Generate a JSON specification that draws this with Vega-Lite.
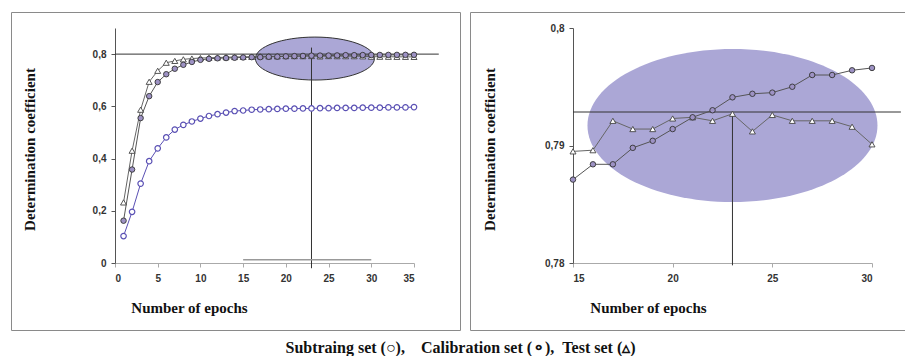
{
  "$schema": "https://vega.github.io/schema/vega-lite/v6.json",
  "padding": {"left": 10, "top": 11, "right": 0, "bottom": 0},
  "background": "white",
  "spacing": 8,
  "datasets": {
    "series": [
      {"set": "sub", "epoch": 1, "value": 0.103}, {"set": "sub", "epoch": 2, "value": 0.196}, {"set": "sub", "epoch": 3, "value": 0.304}, {"set": "sub", "epoch": 4, "value": 0.390}, {"set": "sub", "epoch": 5, "value": 0.439},
      {"set": "sub", "epoch": 6, "value": 0.481}, {"set": "sub", "epoch": 7, "value": 0.511}, {"set": "sub", "epoch": 8, "value": 0.529}, {"set": "sub", "epoch": 9, "value": 0.542}, {"set": "sub", "epoch": 10, "value": 0.553},
      {"set": "sub", "epoch": 11, "value": 0.563}, {"set": "sub", "epoch": 12, "value": 0.570}, {"set": "sub", "epoch": 13, "value": 0.576}, {"set": "sub", "epoch": 14, "value": 0.582}, {"set": "sub", "epoch": 15, "value": 0.584},
      {"set": "sub", "epoch": 16, "value": 0.587}, {"set": "sub", "epoch": 17, "value": 0.588}, {"set": "sub", "epoch": 18, "value": 0.589}, {"set": "sub", "epoch": 19, "value": 0.590}, {"set": "sub", "epoch": 20, "value": 0.591},
      {"set": "sub", "epoch": 21, "value": 0.591}, {"set": "sub", "epoch": 22, "value": 0.592}, {"set": "sub", "epoch": 23, "value": 0.592}, {"set": "sub", "epoch": 24, "value": 0.593}, {"set": "sub", "epoch": 25, "value": 0.593},
      {"set": "sub", "epoch": 26, "value": 0.594}, {"set": "sub", "epoch": 27, "value": 0.594}, {"set": "sub", "epoch": 28, "value": 0.594}, {"set": "sub", "epoch": 29, "value": 0.595}, {"set": "sub", "epoch": 30, "value": 0.595},
      {"set": "sub", "epoch": 31, "value": 0.595}, {"set": "sub", "epoch": 32, "value": 0.596}, {"set": "sub", "epoch": 33, "value": 0.596}, {"set": "sub", "epoch": 34, "value": 0.596}, {"set": "sub", "epoch": 35, "value": 0.597},
      {"set": "cal", "epoch": 1, "value": 0.162}, {"set": "cal", "epoch": 2, "value": 0.358}, {"set": "cal", "epoch": 3, "value": 0.555}, {"set": "cal", "epoch": 4, "value": 0.639}, {"set": "cal", "epoch": 5, "value": 0.693},
      {"set": "cal", "epoch": 6, "value": 0.723}, {"set": "cal", "epoch": 7, "value": 0.744}, {"set": "cal", "epoch": 8, "value": 0.759}, {"set": "cal", "epoch": 9, "value": 0.770}, {"set": "cal", "epoch": 10, "value": 0.778},
      {"set": "cal", "epoch": 11, "value": 0.782}, {"set": "cal", "epoch": 12, "value": 0.784}, {"set": "cal", "epoch": 13, "value": 0.785}, {"set": "cal", "epoch": 14, "value": 0.786}, {"set": "cal", "epoch": 15, "value": 0.7871},
      {"set": "cal", "epoch": 16, "value": 0.7884}, {"set": "cal", "epoch": 17, "value": 0.7884}, {"set": "cal", "epoch": 18, "value": 0.7898}, {"set": "cal", "epoch": 19, "value": 0.7904}, {"set": "cal", "epoch": 20, "value": 0.7914},
      {"set": "cal", "epoch": 21, "value": 0.7924}, {"set": "cal", "epoch": 22, "value": 0.7930}, {"set": "cal", "epoch": 23, "value": 0.7941}, {"set": "cal", "epoch": 24, "value": 0.7944}, {"set": "cal", "epoch": 25, "value": 0.7945},
      {"set": "cal", "epoch": 26, "value": 0.7950}, {"set": "cal", "epoch": 27, "value": 0.7960}, {"set": "cal", "epoch": 28, "value": 0.7960}, {"set": "cal", "epoch": 29, "value": 0.7964}, {"set": "cal", "epoch": 30, "value": 0.7966},
      {"set": "cal", "epoch": 31, "value": 0.7968}, {"set": "cal", "epoch": 32, "value": 0.7970}, {"set": "cal", "epoch": 33, "value": 0.7971}, {"set": "cal", "epoch": 34, "value": 0.7972}, {"set": "cal", "epoch": 35, "value": 0.7973},
      {"set": "test", "epoch": 1, "value": 0.232}, {"set": "test", "epoch": 2, "value": 0.430}, {"set": "test", "epoch": 3, "value": 0.587}, {"set": "test", "epoch": 4, "value": 0.694}, {"set": "test", "epoch": 5, "value": 0.736},
      {"set": "test", "epoch": 6, "value": 0.767}, {"set": "test", "epoch": 7, "value": 0.774}, {"set": "test", "epoch": 8, "value": 0.780}, {"set": "test", "epoch": 9, "value": 0.783}, {"set": "test", "epoch": 10, "value": 0.785},
      {"set": "test", "epoch": 11, "value": 0.786}, {"set": "test", "epoch": 12, "value": 0.787}, {"set": "test", "epoch": 13, "value": 0.788}, {"set": "test", "epoch": 14, "value": 0.789}, {"set": "test", "epoch": 15, "value": 0.7895},
      {"set": "test", "epoch": 16, "value": 0.7896}, {"set": "test", "epoch": 17, "value": 0.7921}, {"set": "test", "epoch": 18, "value": 0.7914}, {"set": "test", "epoch": 19, "value": 0.7914}, {"set": "test", "epoch": 20, "value": 0.7923},
      {"set": "test", "epoch": 21, "value": 0.7924}, {"set": "test", "epoch": 22, "value": 0.7921}, {"set": "test", "epoch": 23, "value": 0.7927}, {"set": "test", "epoch": 24, "value": 0.7912}, {"set": "test", "epoch": 25, "value": 0.7926},
      {"set": "test", "epoch": 26, "value": 0.7921}, {"set": "test", "epoch": 27, "value": 0.7921}, {"set": "test", "epoch": 28, "value": 0.7921}, {"set": "test", "epoch": 29, "value": 0.7916}, {"set": "test", "epoch": 30, "value": 0.7901},
      {"set": "test", "epoch": 31, "value": 0.7900}, {"set": "test", "epoch": 32, "value": 0.7898}, {"set": "test", "epoch": 33, "value": 0.7896}, {"set": "test", "epoch": 34, "value": 0.7895}, {"set": "test", "epoch": 35, "value": 0.7893}
    ]
  },
  "title": {
    "text": "Subtraing set (○),\u00a0\u00a0\u00a0\u00a0Calibration set (⚬),\u00a0\u00a0Test set (▵)",
    "orient": "bottom",
    "anchor": "middle",
    "font": "Liberation Serif",
    "fontSize": 16,
    "fontWeight": "bold",
    "color": "#111",
    "offset": 9
  },
  "hconcat": [
    {
      "width": 449,
      "height": 318,
      "layer": [
        {
          "data": {"values": [{"epoch": 23.4, "value": 0.783}]},
          "mark": {"type": "point", "shape": "M-1,0C-1,-0.1994,-0.5523,-0.361,0,-0.361C0.5523,-0.361,1,-0.1994,1,0C1,0.1994,0.5523,0.361,0,0.361C-0.5523,0.361,-1,0.1994,-1,0Z", "size": 14161, "filled": true, "fill": "#aba7d6", "stroke": "#333", "strokeWidth": 1, "opacity": 1},
          "encoding": {
            "x": {"field": "epoch", "type": "quantitative", "scale": {"domain": [0, 35], "range": [104, 403], "nice": false, "zero": false},
                  "axis": {"title": "Number of epochs", "values": [0, 5, 10, 15, 20, 25, 30, 35], "offset": -67, "titleX": 178, "titleY": 44, "titleBaseline": "middle", "titleAlign": "center"}},
            "y": {"field": "value", "type": "quantitative", "scale": {"domain": [0, 0.9], "range": [251, 16], "nice": false, "zero": false},
                  "axis": {"title": "Determination coefficient", "values": [0, 0.2, 0.4, 0.6, 0.8], "format": "~g", "labelExpr": "replace(datum.label, '.', ',')", "offset": -104, "titleX": -86, "titleY": 137, "titleBaseline": "middle", "titleAlign": "center", "titleAngle": -90}}
          }
        },
        {
          "data": {"values": [{"epoch": 0, "epoch2": 37.9, "value": 0.8}]},
          "mark": {"type": "rule", "color": "#333", "strokeWidth": 1},
          "encoding": {"x": {"field": "epoch", "type": "quantitative"}, "x2": {"field": "epoch2"}, "y": {"field": "value", "type": "quantitative"}}
        },
        {
          "data": {"values": [{"epoch": 23, "value": -0.02, "value2": 0.825}]},
          "mark": {"type": "rule", "color": "#333", "strokeWidth": 1},
          "encoding": {"x": {"field": "epoch", "type": "quantitative"}, "y": {"field": "value", "type": "quantitative"}, "y2": {"field": "value2"}}
        },
        {
          "data": {"values": [{"epoch": 15, "epoch2": 30, "value": 0.012}]},
          "mark": {"type": "rule", "color": "#999", "strokeWidth": 1.5},
          "encoding": {"x": {"field": "epoch", "type": "quantitative"}, "x2": {"field": "epoch2"}, "y": {"field": "value", "type": "quantitative"}}
        },
        {
          "data": {"name": "series"},
          "transform": [{"filter": "datum.set === 'sub'"}],
          "mark": {"type": "line", "color": "#5a50b4", "strokeWidth": 1, "point": {"filled": true, "fill": "white", "stroke": "#5a50b4", "strokeWidth": 1.2, "size": 30}},
          "encoding": {"x": {"field": "epoch", "type": "quantitative"}, "y": {"field": "value", "type": "quantitative"}}
        },
        {
          "data": {"name": "series"},
          "transform": [{"filter": "datum.set === 'test'"}],
          "mark": {"type": "line", "color": "#666", "strokeWidth": 1, "point": {"shape": "triangle-up", "filled": true, "fill": "white", "stroke": "#444", "strokeWidth": 0.9, "size": 36}},
          "encoding": {"x": {"field": "epoch", "type": "quantitative"}, "y": {"field": "value", "type": "quantitative"}}
        },
        {
          "data": {"name": "series"},
          "transform": [{"filter": "datum.set === 'cal'"}],
          "mark": {"type": "line", "color": "#555", "strokeWidth": 1, "point": {"filled": true, "fill": "#9d92c4", "stroke": "#333", "strokeWidth": 0.9, "size": 30}},
          "encoding": {"x": {"field": "epoch", "type": "quantitative"}, "y": {"field": "value", "type": "quantitative"}}
        }
      ]
    },
    {
      "width": 440,
      "height": 318,
      "layer": [
        {
          "data": {"values": [{"epoch": 23, "value": 0.7917}]},
          "mark": {"type": "point", "shape": "M-1,0C-1,-0.2916,-0.5523,-0.528,0,-0.528C0.5523,-0.528,1,-0.2916,1,0C1,0.2916,0.5523,0.528,0,0.528C-0.5523,0.528,-1,0.2916,-1,0Z", "size": 84100, "filled": true, "fill": "#aba7d6", "strokeWidth": 0, "opacity": 1},
          "encoding": {
            "x": {"field": "epoch", "type": "quantitative", "scale": {"domain": [15, 30], "range": [103, 402], "nice": false, "zero": false},
                  "axis": {"title": "Number of epochs", "values": [15, 20, 25, 30], "offset": -67, "titleX": 178, "titleY": 44, "titleBaseline": "middle", "titleAlign": "center"}},
            "y": {"field": "value", "type": "quantitative", "scale": {"domain": [0.78, 0.8], "range": [251, 16], "nice": false, "zero": false},
                  "axis": {"title": "Determination coefficient", "values": [0.78, 0.79, 0.8], "format": "~g", "labelExpr": "replace(datum.label, '.', ',')", "offset": -103, "titleX": -84, "titleY": 137, "titleBaseline": "middle", "titleAlign": "center", "titleAngle": -90}}
          }
        },
        {
          "data": {"values": [{"epoch": 15, "epoch2": 31.45, "value": 0.79285}]},
          "mark": {"type": "rule", "color": "#333", "strokeWidth": 1},
          "encoding": {"x": {"field": "epoch", "type": "quantitative"}, "x2": {"field": "epoch2"}, "y": {"field": "value", "type": "quantitative"}}
        },
        {
          "data": {"values": [{"epoch": 23, "value": 0.7798, "value2": 0.79285}]},
          "mark": {"type": "rule", "color": "#333", "strokeWidth": 1},
          "encoding": {"x": {"field": "epoch", "type": "quantitative"}, "y": {"field": "value", "type": "quantitative"}, "y2": {"field": "value2"}}
        },
        {
          "data": {"name": "series"},
          "transform": [{"filter": "datum.set === 'test' && datum.epoch >= 15 && datum.epoch <= 30"}],
          "mark": {"type": "line", "color": "#666", "strokeWidth": 1, "point": {"shape": "triangle-up", "filled": true, "fill": "white", "stroke": "#444", "strokeWidth": 0.9, "size": 36}},
          "encoding": {"x": {"field": "epoch", "type": "quantitative"}, "y": {"field": "value", "type": "quantitative"}}
        },
        {
          "data": {"name": "series"},
          "transform": [{"filter": "datum.set === 'cal' && datum.epoch >= 15 && datum.epoch <= 30"}],
          "mark": {"type": "line", "color": "#555", "strokeWidth": 1, "point": {"filled": true, "fill": "#9d92c4", "stroke": "#333", "strokeWidth": 0.9, "size": 30}},
          "encoding": {"x": {"field": "epoch", "type": "quantitative"}, "y": {"field": "value", "type": "quantitative"}}
        }
      ]
    }
  ],
  "config": {
    "view": {"stroke": "#8a8a8a", "strokeWidth": 1},
    "axis": {
      "grid": false,
      "labelFont": "Liberation Sans",
      "labelFontSize": 10,
      "labelFontWeight": "bold",
      "labelColor": "#333",
      "labelPadding": 5,
      "titleFont": "Liberation Serif",
      "titleFontSize": 15,
      "titleFontWeight": "bold",
      "titleColor": "#111",
      "tickSize": 4,
      "domainColor": "#555",
      "tickColor": "#555"
    },
    "axisX": {"domainColor": "#aaa", "tickColor": "#aaa", "labelPadding": 6}
  }
}
